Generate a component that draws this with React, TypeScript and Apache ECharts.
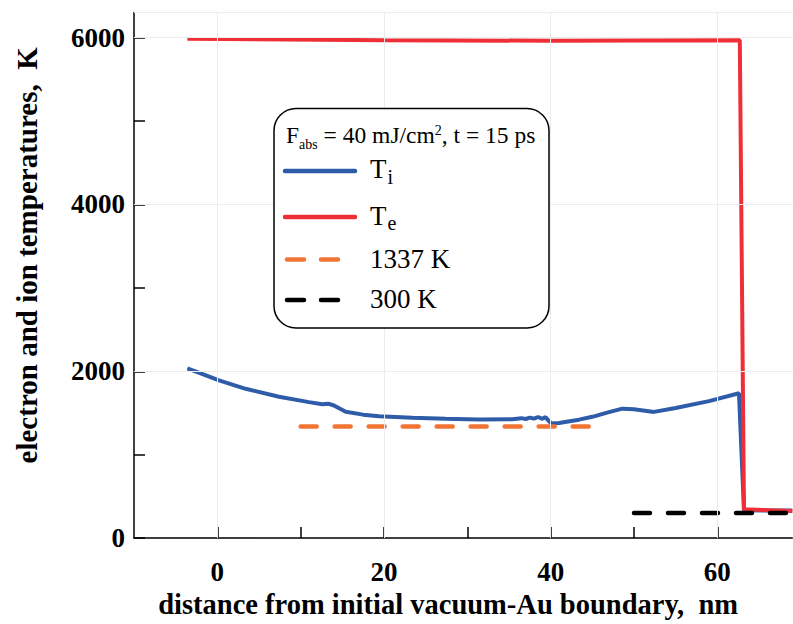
import React, { useEffect, useRef } from "react";
import * as echarts from "echarts";

// ---- data ----
const tiX = [-3.6, -2, 0.2, 3.4, 7.4, 11, 12.6, 13.3, 14, 15.4, 17.5, 19.4, 23.4, 27.4, 31.4, 35.4, 36.5, 37, 37.5, 38, 38.5, 39, 39.4, 39.8, 40.1, 41, 43.4, 45, 47, 48.6, 50, 52.4, 55, 59, 62.6, 63.2, 69];
const tiY = [2035, 1975, 1890, 1790, 1695, 1630, 1605, 1612, 1590, 1515, 1480, 1460, 1442, 1430, 1422, 1425, 1438, 1428, 1445, 1432, 1452, 1430, 1450, 1400, 1375, 1380, 1420, 1454, 1510, 1552, 1545, 1513, 1560, 1642, 1737, 333, 330];
const teX = [-3.6, 20, 40, 62.7, 63.2, 69];
const teY = [5985, 5970, 5962, 5968, 345, 325];
const meltX = [10, 45];
const meltY = [1337, 1337];
const roomX = [50, 69];
const roomY = [300, 300];
const xTicks = [0, 10, 20, 30, 40, 50, 60];
const xLabels = [0, 20, 40, 60];
const yTicks = [0, 1000, 2000, 3000, 4000, 5000, 6000];
const yLabels = [0, 2000, 4000, 6000];
const legendNames = ["T", "T", "1337 K", "300 K"];
const legendSubs = ["i", "e", "", ""];

const BLUE = "#2f5ca9";
const RED = "#ee2f37";
const ORANGE = "#f27434";
const SERIF = "'Liberation Serif', 'Times New Roman', serif";

function measure(text: string, font: string): number {
  const ctx = document.createElement("canvas").getContext("2d");
  if (!ctx) return text.length * 10;
  ctx.font = font;
  return ctx.measureText(text).width;
}

function zip(xs: number[], ys: number[]) {
  return xs.map((x, i) => [x, ys[i]]);
}

export default function App() {
  const ref = useRef<HTMLDivElement>(null);
  useEffect(() => {
    if (!ref.current) return;
    const chart = echarts.init(ref.current, null, { renderer: "svg" });

    // legend title pieces
    const tFs = 23.5;
    const sFs = 14;
    const tFont = `${tFs}px ${SERIF}`;
    const sFont = `${sFs}px ${SERIF}`;
    const base = 143;
    let cx = 286;
    const titleParts: any[] = [];
    const pushText = (txt: string, fs: number, baseline: number) => {
      titleParts.push({
        type: "text",
        x: cx,
        y: baseline - 0.34 * fs,
        style: { text: txt, fontFamily: SERIF, fontSize: fs, fill: "#000", align: "left", verticalAlign: "middle" },
      });
      cx += measure(txt, fs === tFs ? tFont : sFont);
    };
    pushText("F", tFs, base);
    pushText("abs", sFs, base + 6);
    pushText(" = 40 mJ/cm", tFs, base);
    pushText("2", sFs, base - 8);
    pushText(", t = 15 ps", tFs, base);

    const lx0 = 285, lx1 = 355, tx = 370;
    const rowY = [171, 217, 259.5, 300];
    const rowBase = [178.5, 225, 268.3, 308.3];
    const legendEls: any[] = [];
    const styles = [
      { stroke: BLUE, lineDash: null },
      { stroke: RED, lineDash: null },
      { stroke: ORANGE, lineDash: [17, 17] },
      { stroke: "#000", lineDash: [17, 17] },
    ];
    legendNames.forEach((nm, i) => {
      legendEls.push({
        type: "line",
        shape: { x1: lx0 + (styles[i].lineDash ? 2 : 0), y1: rowY[i], x2: lx1, y2: rowY[i] },
        style: { stroke: styles[i].stroke, lineWidth: 4.5, lineCap: "round", lineDash: styles[i].lineDash },
      });
      const fs = 27;
      legendEls.push({
        type: "text",
        x: tx,
        y: rowBase[i] - 0.34 * fs,
        style: { text: nm, fontFamily: SERIF, fontSize: fs, fill: "#000", align: "left", verticalAlign: "middle" },
      });
      if (legendSubs[i]) {
        const w = measure(nm, `${fs}px ${SERIF}`);
        legendEls.push({
          type: "text",
          x: tx + w + 1,
          y: rowBase[i] + 5 - 0.34 * 20,
          style: { text: legendSubs[i], fontFamily: SERIF, fontSize: 20, fill: "#000", align: "left", verticalAlign: "middle" },
        });
      }
    });

    const option: any = {
      animation: false,
      backgroundColor: "#fff",
      grid: { left: 134, top: 12.6, width: 658.3, height: 533.9, containLabel: false },
      xAxis: {
        type: "value",
        min: -10,
        max: 69,
        interval: 10,
        axisLine: { show: true, onZero: false, lineStyle: { color: "#000", width: 1.5 } },
        axisTick: { show: true, inside: true, length: 11, customValues: xTicks, lineStyle: { color: "#000", width: 1.5 } },
        axisLabel: {
          customValues: xLabels,
          formatter: (v: number) => (xLabels.includes(v) ? String(v) : ""),
          fontFamily: SERIF,
          fontWeight: "bold",
          fontSize: 27,
          color: "#000",
          margin: 20,
        },
        splitLine: { show: false },
        name: "distance from initial vacuum-Au boundary,  nm",
        nameLocation: "middle",
        nameGap: 47,
        nameTextStyle: { fontFamily: SERIF, fontWeight: "bold", fontSize: 28.5, color: "#000", padding: [0, 30, 0, 0] },
      },
      yAxis: {
        type: "value",
        min: 0,
        max: 6300,
        interval: 1000,
        axisLine: { show: true, onZero: false, lineStyle: { color: "#000", width: 1.5 } },
        axisTick: { show: true, inside: true, length: 11, customValues: yTicks, lineStyle: { color: "#000", width: 1.5 } },
        axisLabel: {
          customValues: yLabels,
          formatter: (v: number) => (yLabels.includes(v) ? String(v) : ""),
          fontFamily: SERIF,
          fontWeight: "bold",
          fontSize: 27,
          color: "#000",
          margin: 9,
        },
        splitLine: { show: false },
        name: "electron and ion temperatures,  K",
        nameLocation: "middle",
        nameGap: 93,
        nameTextStyle: { fontFamily: SERIF, fontWeight: "bold", fontSize: 29, color: "#000", padding: [0, 0, 0, 40] },
      },
      series: [
        {
          type: "line",
          data: [],
          silent: true,
          markLine: {
            silent: true,
            symbol: "none",
            label: { show: false },
            lineStyle: { color: "#ececec", width: 1, type: "solid" },
            data: [
              ...xLabels.map((v) => ({ xAxis: v })),
              ...yLabels.filter((v) => v > 0).map((v) => ({ yAxis: v })),
              { yAxis: 6300 },
            ],
          },
        },
        {
          name: "Ti",
          type: "line",
          data: zip(tiX, tiY),
          showSymbol: false,
          symbol: "none",
          lineStyle: { color: BLUE, width: 4 },
        },
        {
          name: "Te",
          type: "line",
          data: zip(teX, teY),
          showSymbol: false,
          symbol: "none",
          lineStyle: { color: RED, width: 4 },
        },
        {
          name: "1337 K",
          type: "line",
          data: zip(meltX, meltY),
          showSymbol: false,
          symbol: "none",
          lineStyle: { color: ORANGE, width: 4.5, type: [16, 18], cap: "round" },
        },
        {
          name: "300 K",
          type: "line",
          data: zip(roomX, roomY),
          showSymbol: false,
          symbol: "none",
          lineStyle: { color: "#000", width: 4.5, type: [16, 18], cap: "round" },
        },
      ],
      graphic: [
        {
          type: "rect",
          shape: { x: 274, y: 108.5, width: 275, height: 219.5, r: 22 },
          style: { fill: "#fff", stroke: "#000", lineWidth: 1.5 },
          z: 10,
        },
        ...titleParts.map((p) => ({ ...p, z: 11 })),
        ...legendEls.map((p) => ({ ...p, z: 11 })),
      ],
    };
    chart.setOption(option);
    return () => chart.dispose();
  }, []);
  return <div ref={ref} style={{ position: "fixed", left: 0, top: 0, width: 793, height: 624 }} />;
}
